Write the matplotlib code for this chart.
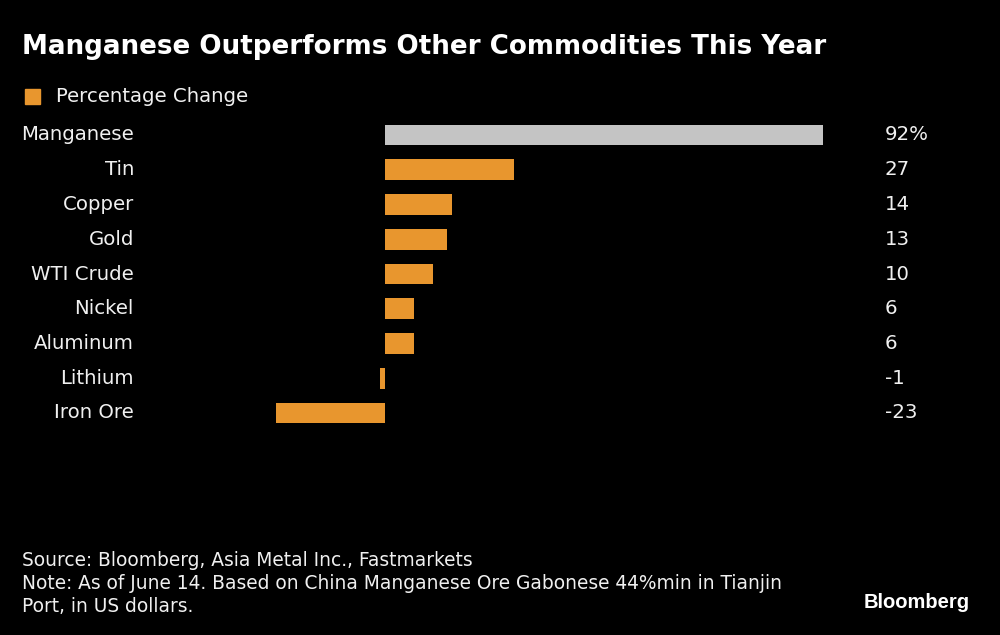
import matplotlib.pyplot as plt
from matplotlib import transforms

# data
categorias = ['Manganese', 'Tin', 'Copper', 'Gold', 'WTI Crude', 'Nickel', 'Aluminum', 'Lithium', 'Iron Ore']
variacao = [92, 27, 14, 13, 10, 6, 6, -1, -23]
rotulos = ['92%', '27', '14', '13', '10', '6', '6', '-1', '-23']

laranja = '#E8962E'
cinza = '#C4C4C4'
fundo = 'black'
texto = '#F0F0F0'

W, H = 1000, 635
fig = plt.figure(figsize=(10, 6.35), dpi=100, facecolor=fundo)

# area dos bars: zero em x=385px, 92 em x=823px
ax = fig.add_axes([200 / W, 1 - 450 / H, 650 / W, 350 / H])
ax.set_facecolor(fundo)
px_por_unidade = (823 - 385) / 92
ax.set_xlim((200 - 385) / px_por_unidade, (850 - 385) / px_por_unidade)
passo = (413 - 135) / 8
ax.set_ylim((450 - 135) / passo, (100 - 135) / passo)

cores = [cinza if c == 'Manganese' else laranja for c in categorias]
ax.barh(range(len(categorias)), variacao, height=0.6, color=cores)
ax.axis('off')

trans_esq = transforms.blended_transform_factory(fig.transFigure, ax.transData)
for i, (cat, rot) in enumerate(zip(categorias, rotulos)):
    ax.text(134 / W, i, cat, transform=trans_esq, ha='right', va='center',
            color=texto, fontsize=14.2)
    ax.text(885 / W, i, rot, transform=trans_esq, ha='left', va='center',
            color=texto, fontsize=14.2)

# titulo
fig.text(22 / W, 1 - 47 / H, 'Manganese Outperforms Other Commodities This Year',
         color='white', fontsize=18.8, fontweight='bold', va='center', ha='left')

# legenda
fig.patches.append(plt.Rectangle((25 / W, 1 - 104 / H), 15 / W, 15 / H,
                                 transform=fig.transFigure, color=laranja))
fig.text(56 / W, 1 - 96 / H, 'Percentage Change', color=texto, fontsize=14.2,
         va='center', ha='left')

# rodape
notas = ['Source: Bloomberg, Asia Metal Inc., Fastmarkets',
         'Note: As of June 14. Based on China Manganese Ore Gabonese 44%min in Tianjin',
         'Port, in US dollars.']
for k, linha in enumerate(notas):
    fig.text(22 / W, 1 - (560 + k * 23.5) / H, linha, color=texto, fontsize=13.4,
             va='center', ha='left')

fig.text(970 / W, 1 - 603 / H, 'Bloomberg', color='white', fontsize=14.5,
         fontweight='bold', family=['Liberation Sans', 'DejaVu Sans'],
         va='center', ha='right')

fig.savefig('out.png', dpi=100, facecolor=fundo)
